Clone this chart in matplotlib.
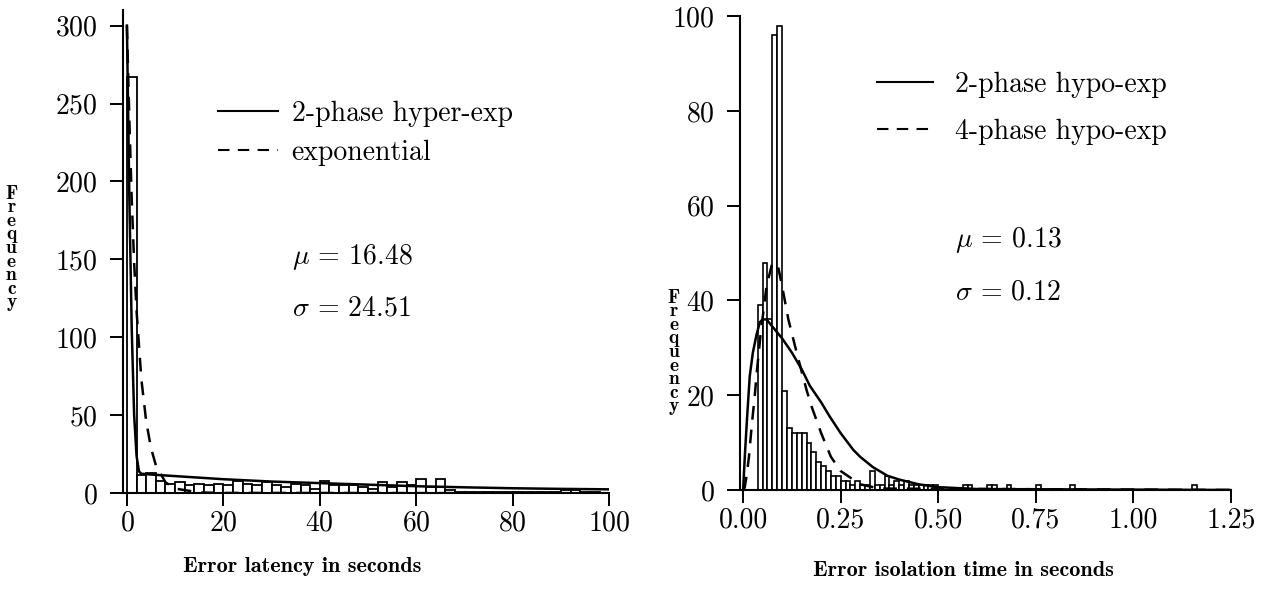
import numpy as np
import matplotlib
matplotlib.use("Agg")
import matplotlib.pyplot as plt
from matplotlib.lines import Line2D

plt.rcParams['font.family'] = ['cmr10', 'DejaVu Serif']
plt.rcParams['mathtext.fontset'] = 'cm'
plt.rcParams['axes.formatter.use_mathtext'] = True

# Left panel: error latency histogram (bin width 2 s)
lat_edges = np.arange(0, 102, 2)
lat_counts = [267, 12, 13, 8, 6, 7, 5, 6, 5, 6,
              5, 8, 6, 5, 7, 5, 4, 6, 5, 3,
              8, 5, 5, 5, 4, 3, 7, 4, 7, 5,
              9, 4, 9, 2, 1, 1, 1, 1, 1, 1,
              1, 1, 1, 1, 1, 2, 2, 1, 1, 0]
hyper_x = [0, 0.5, 1, 1.5, 2, 2.5, 3, 5, 10, 20, 30, 40, 50, 60, 70, 80, 90, 100]
hyper_y = [300, 190, 105, 50, 24, 14, 12.5, 12, 11, 9, 7.5, 6.5, 5.5, 4.5, 3.8, 3.2, 2.8, 2.5]
expo_x = [0, 0.5, 1, 1.5, 2, 3, 4, 5, 6, 8, 10, 15, 20, 100]
expo_y = [300, 240, 188, 148, 117, 73, 46, 29, 18, 7, 3, 0.5, 0.2, 0]

# Right panel: error isolation time histogram (bin width 0.0125 s)
iso_edges = np.arange(0, 1.2625, 0.0125)
iso_counts = [0, 0, 0, 39, 48, 36, 96, 98, 21, 13,
              12, 12, 12, 10, 8, 6, 5, 4, 3, 3,
              2, 2, 1, 2, 1, 1, 4, 1, 1, 3,
              1, 2, 1, 2, 1, 1, 1, 1, 1, 1,
              0, 0, 0, 0, 0, 1, 1, 0, 0, 0,
              1, 1, 0, 0, 1, 0, 0, 0, 0, 0,
              1, 0, 0, 0, 0, 0, 0, 1, 0, 0,
              0, 0, 0, 0, 0, 0, 0, 0, 0, 0,
              0, 0, 0, 0, 0, 0, 0, 0, 0, 0,
              0, 0, 1, 0, 0, 0, 0, 0, 0, 0]
hypo2_x = [0, 0.005, 0.01, 0.017, 0.025, 0.035, 0.043, 0.05, 0.06, 0.08, 0.1, 0.125, 0.15,
           0.171, 0.2, 0.222, 0.25, 0.282, 0.3, 0.333, 0.37, 0.4, 0.45, 0.5, 0.6, 1.25]
hypo2_y = [0, 8, 15, 24, 29, 33, 35.4, 36, 36, 34, 32, 29, 25.5,
           22, 18.5, 15.5, 12, 8.5, 7, 4.8, 3, 2.2, 1.2, 0.6, 0.2, 0]
hypo4_x = [0, 0.004, 0.009, 0.015, 0.022, 0.03, 0.035, 0.045, 0.06, 0.075, 0.09, 0.1, 0.116,
           0.133, 0.15, 0.163, 0.176, 0.2, 0.225, 0.25, 0.3, 0.35, 1.25]
hypo4_y = [0, 0.5, 3, 7, 13.5, 20, 24.8, 33, 43, 48, 47, 43, 36,
           30.4, 25, 21, 17.5, 12, 7, 4, 1.2, 0.3, 0]

fig = plt.figure(figsize=(12.66, 5.90), dpi=100)

ax1 = fig.add_axes([0.0972, 0.164, 0.384, 0.819])
ax1.bar(lat_edges[:-1], lat_counts, width=2, align='edge',
        facecolor='white', edgecolor='black', linewidth=1.3)
ax1.plot(hyper_x, hyper_y, color='black', lw=1.8)
ax1.plot(expo_x, expo_y, color='black', lw=1.8, dashes=(5.5, 4))
ax1.set_xlim(-0.8, 100)
ax1.set_ylim(0, 310)
ax1.set_xticks(np.arange(0, 101, 20))
ax1.set_yticks(np.arange(0, 301, 50))
leg1 = [Line2D([], [], color='black', lw=1.5),
        Line2D([], [], color='black', lw=1.5, dashes=(5.5, 4))]
ax1.legend(leg1, ['2-phase hyper-exp', 'exponential'], loc='upper left',
           bbox_to_anchor=(0.195, 0.812), frameon=False, fontsize=20,
           handlelength=2.16, handletextpad=0.5, labelspacing=0.45,
           borderpad=0, borderaxespad=0)
ax1.text(0.348, 0.489, r'$\mu$ = 16.48', transform=ax1.transAxes,
         fontsize=20, va='center')
ax1.text(0.348, 0.383, r'$\sigma$ = 24.51', transform=ax1.transAxes,
         fontsize=20, va='center')

ax2 = fig.add_axes([0.5845, 0.1695, 0.3878, 0.803])
ax2.bar(iso_edges[:-1], iso_counts, width=0.0125, align='edge',
        facecolor='white', edgecolor='black', linewidth=1.2)
ax2.plot(hypo2_x, hypo2_y, color='black', lw=1.8)
ax2.plot(hypo4_x, hypo4_y, color='black', lw=1.8, dashes=(5.5, 4))
ax2.set_xlim(-0.008, 1.25)
ax2.set_ylim(0, 100)
ax2.set_xticks(np.arange(0, 1.26, 0.25))
ax2.set_xticklabels(['0.00', '0.25', '0.50', '0.75', '1.00', '1.25'])
ax2.set_yticks(np.arange(0, 101, 20))
leg2 = [Line2D([], [], color='black', lw=1.5),
        Line2D([], [], color='black', lw=1.5, dashes=(5.5, 4))]
ax2.legend(leg2, ['2-phase hypo-exp', '4-phase hypo-exp'], loc='upper left',
           bbox_to_anchor=(0.279, 0.884), frameon=False, fontsize=20,
           handlelength=2.0, handletextpad=0.8, labelspacing=0.76,
           borderpad=0, borderaxespad=0)
ax2.text(0.438, 0.527, r'$\mu$ = 0.13', transform=ax2.transAxes,
         fontsize=20, va='center')
ax2.text(0.438, 0.418, r'$\sigma$ = 0.12', transform=ax2.transAxes,
         fontsize=20, va='center')

for ax in (ax1, ax2):
    ax.spines['top'].set_visible(False)
    ax.spines['right'].set_visible(False)
    ax.spines['left'].set_linewidth(1.5)
    ax.spines['bottom'].set_linewidth(1.5)
    ax.tick_params(direction='out', length=9.5, width=1.4, labelsize=20)
    ax.tick_params(axis='x', pad=3)
    ax.tick_params(axis='y', pad=8.5)

fig.text(0.2385, 1 - 566 / 590, 'Error latency in seconds', fontsize=16,
         family=['cmb10', 'DejaVu Serif'], ha='center', va='center')
fig.text(0.7607, 1 - 570 / 590, 'Error isolation time in seconds', fontsize=16,
         family=['cmb10', 'DejaVu Serif'], ha='center', va='center')
fig.text(0.009, 1 - 248 / 590, '\n'.join('Frequency'), fontsize=14,
         family=['cmb10', 'DejaVu Serif'], ha='center', va='center', linespacing=0.68)
fig.text(0.532, 1 - 352 / 590, '\n'.join('Frequency'), fontsize=14,
         family=['cmb10', 'DejaVu Serif'], ha='center', va='center', linespacing=0.68)

fig.savefig('out.png', dpi=100)
